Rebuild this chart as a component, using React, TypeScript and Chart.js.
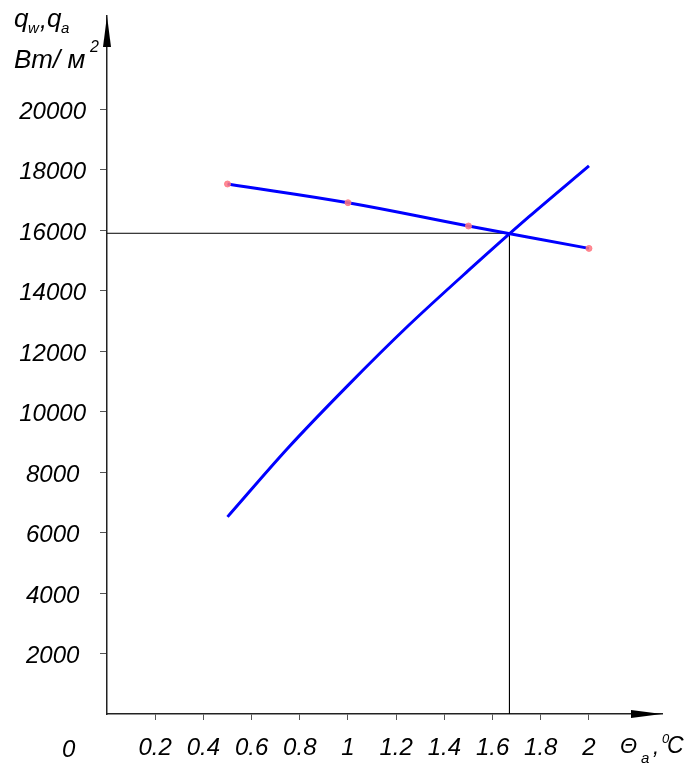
import React, { useEffect, useRef } from "react";
import { Chart, registerables } from "chart.js";

Chart.register(...registerables);

// Data
const thetaA = [0.5, 1.0, 1.5, 2.0];
const qaValues = [17530, 16910, 16140, 15400]; // falling curve with markers
const thetaW = [0.5, 0.75, 1.0, 1.25, 1.5, 1.75, 2.0];
const qwValues = [6520, 8790, 10870, 12840, 14670, 16440, 18130]; // rising curve
const crossTheta = 1.67;
const crossQ = 15900;
const xTickValues = [0.2, 0.4, 0.6, 0.8, 1.0, 1.2, 1.4, 1.6, 1.8, 2.0];
const yTickValues = [2000, 4000, 6000, 8000, 10000, 12000, 14000, 16000, 18000, 20000];

const FONT = '"Liberation Sans", Arial, sans-serif';

const decorPlugin = {
  id: "decor",
  afterDraw(chart: any) {
    const ctx = chart.ctx as CanvasRenderingContext2D;
    const { left, top, right, bottom } = chart.chartArea;
    ctx.save();
    ctx.fillStyle = "#000";
    // y arrow
    ctx.beginPath();
    ctx.moveTo(left, top);
    ctx.lineTo(left - 4, top + 31);
    ctx.lineTo(left + 4, top + 31);
    ctx.closePath();
    ctx.fill();
    // x arrow
    ctx.beginPath();
    ctx.moveTo(right, bottom);
    ctx.lineTo(right - 31, bottom - 4);
    ctx.lineTo(right - 31, bottom + 4);
    ctx.closePath();
    ctx.fill();

    const t = (s: string, x: number, y: number, size: number) => {
      ctx.font = `italic ${size}px ${FONT}`;
      ctx.textAlign = "left";
      ctx.textBaseline = "alphabetic";
      ctx.fillText(s, x, y);
    };
    // y title
    t("q", 14, 27, 26);
    t("w", 28, 33, 15);
    t(",", 40, 28, 25);
    t("q", 47, 27, 26);
    t("a", 61, 33, 15);
    t("Вт/ м", 14, 68, 26);
    t("2", 90, 52, 16);
    // x title
    t("Θ", 620, 753, 22);
    t("a", 641, 763, 15);
    t(",", 653, 754, 22);
    t("0", 662, 743, 13);
    t("C", 667, 753, 23);
    // origin
    t("0", 62, 757, 24);
    ctx.restore();
  },
};

export default function App() {
  const ref = useRef<HTMLCanvasElement | null>(null);
  useEffect(() => {
    if (!ref.current) return;
    const chart = new Chart(ref.current, {
      type: "line",
      data: {
        datasets: [
          {
            data: [
              { x: 0, y: crossQ },
              { x: crossTheta, y: crossQ },
              { x: crossTheta, y: 0 },
            ],
            borderColor: "#000",
            borderWidth: 1,
            pointRadius: 0,
            tension: 0,
            order: 3,
          },
          {
            data: thetaW.map((x, i) => ({ x, y: qwValues[i] })),
            borderColor: "#0000ff",
            borderWidth: 3,
            pointRadius: 0,
            cubicInterpolationMode: "monotone",
            order: 2,
          },
          {
            data: thetaA.map((x, i) => ({ x, y: qaValues[i] })),
            borderColor: "#0000ff",
            borderWidth: 3,
            pointRadius: 3,
            pointStyle: "circle",
            pointBackgroundColor: "rgba(255,120,130,0.85)",
            pointBorderColor: "rgba(255,120,130,0.85)",
            pointBorderWidth: 1,
            tension: 0.4,
            order: 1,
          },
        ],
      },
      options: {
        animation: false,
        responsive: false,
        layout: { autoPadding: false, padding: { top: 16, right: 28, left: 0, bottom: 0 } },
        plugins: { legend: { display: false }, tooltip: { enabled: false } },
        scales: {
          x: {
            type: "linear",
            min: 0,
            max: 2.303,
            afterFit: (s: any) => {
              s.height = 50;
              s.paddingLeft = 0;
              s.paddingRight = 0;
            },
            afterBuildTicks: (s: any) => {
              s.ticks = xTickValues.map((v) => ({ value: v }));
            },
            grid: { drawOnChartArea: false, drawTicks: true, tickLength: 6, color: "#555" },
            border: { display: true, color: "#222", width: 1.5 },
            ticks: {
              autoSkip: false,
              maxRotation: 0,
              padding: 14,
              color: "#000",
              font: { family: FONT, size: 24, style: "italic" },
              callback: (v: any) => String(Math.round(Number(v) * 10) / 10),
            },
          },
          y: {
            type: "linear",
            min: 0,
            max: 23086,
            afterFit: (s: any) => {
              s.width = 107;
              s.paddingTop = 0;
              s.paddingBottom = 0;
            },
            afterBuildTicks: (s: any) => {
              s.ticks = yTickValues.map((v) => ({ value: v }));
            },
            grid: { drawOnChartArea: false, drawTicks: true, tickLength: 7, color: "#555" },
            border: { display: true, color: "#222", width: 1.5 },
            ticks: {
              autoSkip: false,
              padding: 14,
              crossAlign: "center",
              labelOffset: 3,
              color: "#000",
              font: { family: FONT, size: 24, style: "italic" },
              callback: (v: any) => String(v),
            },
          },
        },
      },
      plugins: [decorPlugin],
    } as any);
    return () => chart.destroy();
  }, []);
  return (
    <div style={{ position: "absolute", left: 0, top: 0, width: 690, height: 764, background: "#fff" }}>
      <canvas ref={ref} width={690} height={764} style={{ display: "block" }} />
    </div>
  );
}
